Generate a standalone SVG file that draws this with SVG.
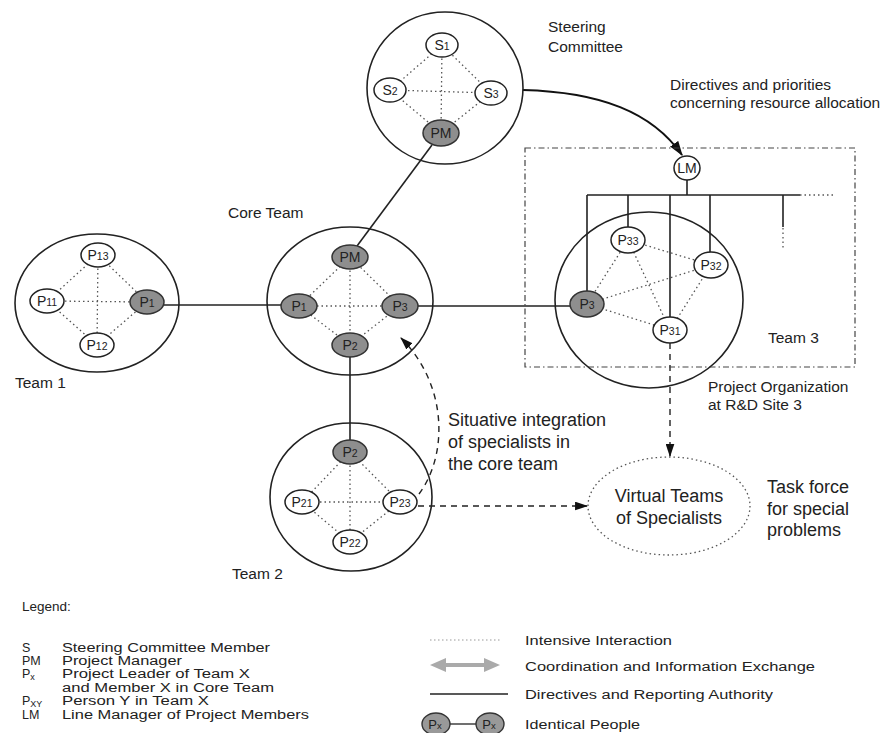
<svg xmlns="http://www.w3.org/2000/svg" width="894" height="733" viewBox="0 0 894 733">
<style>
text{font-family:"Liberation Sans",Arial,sans-serif;fill:#222}
.lbl{font-size:15.5px}
.big{font-size:18px}
.leg{font-size:12.5px}
.nt{font-size:14px;text-anchor:middle}
.sub{font-size:10.5px}
.team{fill:none;stroke:#222;stroke-width:1.6}
.wn{fill:#fff;stroke:#222;stroke-width:1.5}
.gn{fill:#8e8e8e;stroke:#333;stroke-width:1.5}
.dot{stroke:#555;stroke-width:1.3;stroke-dasharray:1.5 3;fill:none}
.solid{stroke:#222;stroke-width:1.6;fill:none}
.dash{stroke:#222;stroke-width:1.4;stroke-dasharray:6 5;fill:none}
</style>
<defs>
<marker id="ah" viewBox="0 0 12 8" refX="11" refY="4" markerWidth="13" markerHeight="9" markerUnits="userSpaceOnUse" orient="auto"><path d="M0,0 L12,4 L0,8 z" fill="#111"/></marker>
<marker id="ahb" viewBox="0 0 12 8" refX="11" refY="4" markerWidth="15" markerHeight="10" markerUnits="userSpaceOnUse" orient="auto"><path d="M0,0 L12,4 L0,8 z" fill="#111"/></marker>
</defs>
<rect width="894" height="733" fill="#fff"/>

<!-- interaction (dotted) lines inside teams -->
<g id="interactions">
<path class="dot" d="M442,45 L390,90 L441,133 L491,93 Z M442,45 L441,133 M390,90 L491,93"/>
<path class="dot" d="M98,255 L47,301 L97,345 L147,302 Z M98,255 L97,345 M47,301 L147,302"/>
<path class="dot" d="M350,257 L299,306 L350,345 L400,306 Z M350,257 L350,345 M299,306 L400,306"/>
<path class="dot" d="M350,452 L302,502 L350,542 L400,502 Z M350,452 L350,542 M302,502 L400,502"/>
<path class="dot" d="M628,240 L711,265 L670,330 L587,304 Z M628,240 L670,330 M711,265 L587,304"/>
</g>

<!-- connectors -->
<g id="connectors">
<line class="solid" x1="432" y1="145" x2="357" y2="246"/>
<line class="solid" x1="164" y1="305" x2="281" y2="305"/>
<line class="solid" x1="418" y1="306" x2="570" y2="306"/>
<line class="solid" x1="350" y1="357" x2="350" y2="440"/>
<path class="solid" d="M687,180 V195 M587,195 H800 M587,195 V291 M628,195 V227 M670,195 V317 M710,195 V252 M783,195 V227"/>
<path class="dot" d="M800,195 H834 M783,228 V248"/>
<path d="M523,90 C600,92 652,112 682,155" fill="none" stroke="#111" stroke-width="2" marker-end="url(#ahb)"/>
<path class="dash" d="M419,494 C448,455 448,385 401,338" marker-end="url(#ah)"/>
<line class="dash" x1="418" y1="506" x2="587" y2="506" marker-end="url(#ah)"/>
<line class="dash" x1="670" y1="343" x2="670" y2="456" marker-end="url(#ah)"/>
<rect x="525" y="148" width="330" height="219" fill="none" stroke="#444" stroke-width="1.2" stroke-dasharray="6 3 1.5 3"/>
</g>

<!-- Steering committee -->
<g id="steering">
<ellipse class="team" cx="445" cy="88" rx="78" ry="76"/>
<text class="lbl" x="548" y="32">Steering</text>
<text class="lbl" x="548" y="52">Committee</text>
</g>
<g id="s1"><ellipse class="wn" cx="442" cy="45" rx="16" ry="12"/><text class="nt" x="442" y="50">S<tspan class="sub">1</tspan></text></g>
<g id="s2"><ellipse class="wn" cx="390" cy="90" rx="16" ry="12"/><text class="nt" x="390" y="95">S<tspan class="sub">2</tspan></text></g>
<g id="s3"><ellipse class="wn" cx="491" cy="93" rx="16" ry="12"/><text class="nt" x="491" y="98">S<tspan class="sub">3</tspan></text></g>
<g id="s-pm"><ellipse class="gn" cx="441" cy="133" rx="18" ry="13"/><text class="nt" x="441" y="138">PM</text></g>

<!-- Core team -->
<g id="core">
<ellipse class="team" cx="350" cy="301" rx="83" ry="74"/>
<text class="lbl" x="228" y="218">Core Team</text>
</g>
<g id="c-pm"><ellipse class="gn" cx="350" cy="257" rx="18" ry="12"/><text class="nt" x="350" y="262">PM</text></g>
<g id="c-p1"><ellipse class="gn" cx="299" cy="306" rx="18" ry="12"/><text class="nt" x="299" y="311">P<tspan class="sub">1</tspan></text></g>
<g id="c-p3"><ellipse class="gn" cx="400" cy="306" rx="18" ry="12"/><text class="nt" x="400" y="311">P<tspan class="sub">3</tspan></text></g>
<g id="c-p2"><ellipse class="gn" cx="350" cy="345" rx="18" ry="12"/><text class="nt" x="350" y="350">P<tspan class="sub">2</tspan></text></g>

<!-- Team 1 -->
<g id="team1">
<ellipse class="team" cx="97" cy="303" rx="82" ry="69"/>
<text class="lbl" x="15" y="388">Team 1</text>
</g>
<g id="t1-p13"><ellipse class="wn" cx="98" cy="255" rx="17" ry="12"/><text class="nt" x="98" y="260">P<tspan class="sub">13</tspan></text></g>
<g id="t1-p11"><ellipse class="wn" cx="47" cy="301" rx="17" ry="12"/><text class="nt" x="47" y="306">P<tspan class="sub">11</tspan></text></g>
<g id="t1-p1"><ellipse class="gn" cx="147" cy="302" rx="17" ry="12"/><text class="nt" x="147" y="307">P<tspan class="sub">1</tspan></text></g>
<g id="t1-p12"><ellipse class="wn" cx="97" cy="345" rx="17" ry="12"/><text class="nt" x="97" y="350">P<tspan class="sub">12</tspan></text></g>

<!-- Team 2 -->
<g id="team2">
<ellipse class="team" cx="351" cy="497" rx="81" ry="74"/>
<text class="lbl" x="232" y="579">Team 2</text>
</g>
<g id="t2-p2"><ellipse class="gn" cx="350" cy="452" rx="17" ry="12"/><text class="nt" x="350" y="457">P<tspan class="sub">2</tspan></text></g>
<g id="t2-p21"><ellipse class="wn" cx="302" cy="502" rx="17" ry="12"/><text class="nt" x="302" y="507">P<tspan class="sub">21</tspan></text></g>
<g id="t2-p23"><ellipse class="wn" cx="400" cy="502" rx="17" ry="12"/><text class="nt" x="400" y="507">P<tspan class="sub">23</tspan></text></g>
<g id="t2-p22"><ellipse class="wn" cx="350" cy="542" rx="17" ry="12"/><text class="nt" x="350" y="547">P<tspan class="sub">22</tspan></text></g>

<!-- Team 3 -->
<g id="team3">
<ellipse class="team" cx="649" cy="300" rx="94" ry="88"/>
<text class="lbl" x="768" y="343">Team 3</text>
<text class="lbl" x="708" y="392">Project Organization</text>
<text class="lbl" x="708" y="410">at R&amp;D Site 3</text>
</g>
<g id="lm"><ellipse class="wn" cx="687" cy="168" rx="13" ry="12"/><text class="nt" x="687" y="173">LM</text></g>
<g id="t3-p33"><ellipse class="wn" cx="628" cy="240" rx="17" ry="13"/><text class="nt" x="628" y="245">P<tspan class="sub">33</tspan></text></g>
<g id="t3-p32"><ellipse class="wn" cx="711" cy="265" rx="17" ry="13"/><text class="nt" x="711" y="270">P<tspan class="sub">32</tspan></text></g>
<g id="t3-p3"><ellipse class="gn" cx="587" cy="304" rx="17" ry="13"/><text class="nt" x="587" y="309">P<tspan class="sub">3</tspan></text></g>
<g id="t3-p31"><ellipse class="wn" cx="670" cy="330" rx="17" ry="13"/><text class="nt" x="670" y="335">P<tspan class="sub">31</tspan></text></g>

<!-- annotations -->
<g id="directives-label">
<text class="lbl" x="670" y="90">Directives and priorities</text>
<text class="lbl" x="670" y="108">concerning resource allocation</text>
</g>
<g id="situative-label">
<text class="big" x="448" y="426">Situative integration</text>
<text class="big" x="448" y="448">of specialists in</text>
<text class="big" x="448" y="470">the core team</text>
</g>
<g id="virtual">
<ellipse cx="669" cy="506" rx="81" ry="49" fill="none" stroke="#555" stroke-width="1.3" stroke-dasharray="1.5 3"/>
<text class="big" x="669" y="502" text-anchor="middle">Virtual Teams</text>
<text class="big" x="669" y="524" text-anchor="middle">of Specialists</text>
</g>
<g id="taskforce">
<text class="big" x="767" y="493">Task force</text>
<text class="big" x="767" y="515">for special</text>
<text class="big" x="767" y="536">problems</text>
</g>

<!-- legend -->
<g id="legend">
<text x="22" y="611" style="font-size:13.5px">Legend:</text>
<text class="leg" x="22" y="652">S</text><text class="leg" x="62" y="652" textLength="208" lengthAdjust="spacingAndGlyphs">Steering Committee Member</text>
<text class="leg" x="22" y="665">PM</text><text class="leg" x="62" y="665" textLength="120" lengthAdjust="spacingAndGlyphs">Project Manager</text>
<text class="leg" x="22" y="678">P<tspan style="font-size:9px" dy="2">x</tspan></text><text class="leg" x="62" y="678" textLength="188" lengthAdjust="spacingAndGlyphs">Project Leader of Team X</text>
<text class="leg" x="62" y="692" textLength="212" lengthAdjust="spacingAndGlyphs">and Member X in Core Team</text>
<text class="leg" x="22" y="705">P<tspan style="font-size:9px" dy="2">XY</tspan></text><text class="leg" x="62" y="705" textLength="147" lengthAdjust="spacingAndGlyphs">Person Y in Team X</text>
<text class="leg" x="22" y="719">LM</text><text class="leg" x="62" y="719" textLength="247" lengthAdjust="spacingAndGlyphs">Line Manager of Project Members</text>

<line x1="430" y1="640" x2="500" y2="640" stroke="#999" stroke-width="1.2" stroke-dasharray="1.5 2.5"/>
<text class="leg" x="525" y="645" textLength="147" lengthAdjust="spacingAndGlyphs">Intensive Interaction</text>
<polygon points="430,665 446,658 446,663 484,663 484,658 500,665 484,672 484,667 446,667 446,672" fill="#aaa"/>
<text class="leg" x="525" y="671" textLength="290" lengthAdjust="spacingAndGlyphs">Coordination and Information Exchange</text>
<line x1="430" y1="694" x2="508" y2="694" stroke="#222" stroke-width="1.6"/>
<text class="leg" x="525" y="699" textLength="248" lengthAdjust="spacingAndGlyphs">Directives and Reporting Authority</text>
<line x1="450" y1="724" x2="476" y2="724" stroke="#333" stroke-width="1.4"/>
<ellipse cx="436" cy="724" rx="14" ry="11" fill="#999" stroke="#333" stroke-width="1.4"/>
<text class="nt" x="435" y="729" style="font-size:13px">P<tspan style="font-size:9.5px">x</tspan></text>
<ellipse cx="490" cy="724" rx="14" ry="11" fill="#999" stroke="#333" stroke-width="1.4"/>
<text class="nt" x="489" y="729" style="font-size:13px">P<tspan style="font-size:9.5px">x</tspan></text>
<text class="leg" x="525" y="729" textLength="115" lengthAdjust="spacingAndGlyphs">Identical People</text>
</g>
</svg>
